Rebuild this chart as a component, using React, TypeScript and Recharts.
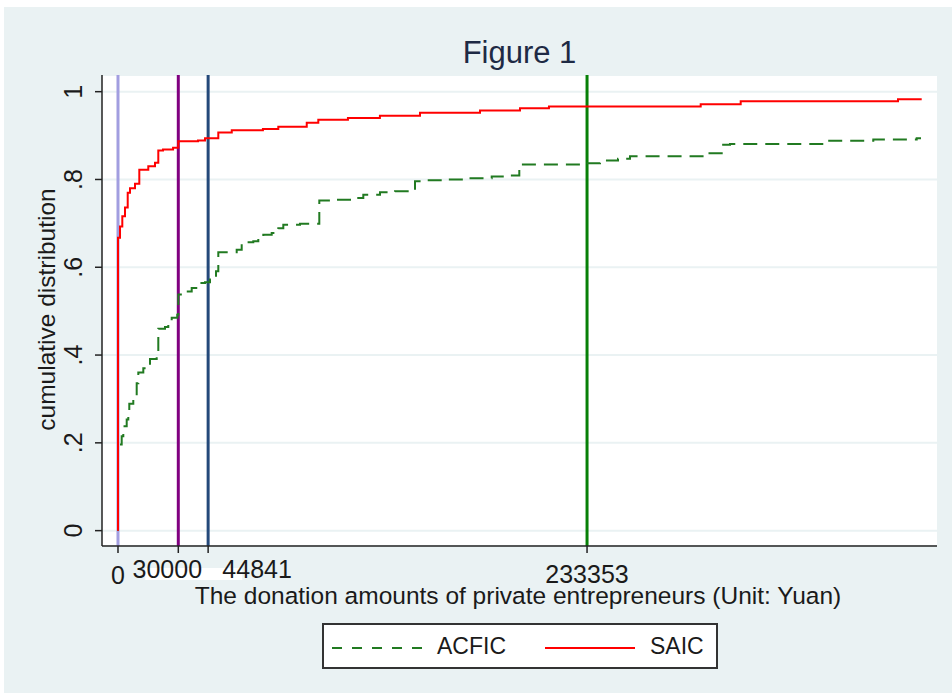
import React from 'react';
import { LineChart, Line, XAxis, YAxis, CartesianGrid, ReferenceLine, Legend } from 'recharts';

// step points of the two empirical CDFs (donation in yuan -> cumulative share)
const saicX = [0, 0, 1000, 2140, 3480, 4830, 5970, 8460, 10600, 15070, 18400, 20050, 22400, 27400, 30000, 39800, 43300, 49900, 56600, 72100, 79750, 93900, 99650, 114400, 130300, 150250, 180100, 200000, 214400, 289900, 309800, 388060, 399850];
const saicY = [0, 0.667, 0.693, 0.716, 0.736, 0.77, 0.78, 0.79, 0.822, 0.83, 0.838, 0.866, 0.868, 0.872, 0.887, 0.889, 0.894, 0.907, 0.912, 0.915, 0.92, 0.929, 0.936, 0.94, 0.945, 0.952, 0.957, 0.962, 0.966, 0.9715, 0.978, 0.9825, 0.9825];

const acficX = [0, 0, 650, 1840, 2640, 4330, 5120, 5620, 7610, 8460, 9300, 10100, 12590, 15070, 15920, 19250, 20050, 23380, 25020, 26720, 29500, 30000, 34180, 36670, 39950, 43280, 45770, 48760, 49900, 59050, 61540, 67310, 69800, 72290, 76470, 79750, 82240, 90550, 100150, 107960, 118760, 122040, 130350, 137810, 147760, 153580, 163530, 171790, 185920, 192540, 199650, 229850, 239800, 248760, 254730, 292890, 300350, 304480, 351740, 375770, 397360, 399500];
const acficY = [0, 0.19, 0.196, 0.215, 0.238, 0.253, 0.264, 0.289, 0.298, 0.306, 0.336, 0.36, 0.37, 0.374, 0.391, 0.397, 0.46, 0.464, 0.477, 0.485, 0.492, 0.538, 0.545, 0.553, 0.564, 0.566, 0.572, 0.591, 0.634, 0.64, 0.657, 0.659, 0.667, 0.674, 0.678, 0.689, 0.697, 0.699, 0.752, 0.754, 0.758, 0.765, 0.771, 0.773, 0.796, 0.798, 0.8, 0.803, 0.807, 0.809, 0.834, 0.837, 0.843, 0.847, 0.853, 0.86, 0.879, 0.881, 0.888, 0.891, 0.894, 0.894];

// vertical marker lines, also the x ticks
const markerValues = [0, 30000, 44841, 233353];
const markerColors = ['#a29ee0', '#800080', '#24497a', '#078007'];

const yTicks = [0, 0.2, 0.4, 0.6, 0.8, 1];
const yTickLabels = ['0', '.2', '.4', '.6', '.8', '1'];

const saicData = saicX.map((x, i) => ({ x, cdf: saicY[i] }));
const acficData = acficX.map((x, i) => ({ x, cdf: acficY[i] }));

const FONT = '"Liberation Sans", Arial, sans-serif';
const TEXT = '#1a1a1a';
const BG = '#EAF2F3';
const RED = '#ff0000';
const DGREEN = '#217a21';

// the crowded labels were nudged in the original
const xLabelShift: Record<number, [number, number]> = {
  30000: [-11, -6],
  44841: [49, -6],
  233353: [0, -1],
};

const XTick = (props: any) => {
  const { x, y, payload } = props;
  const [dx, dy] = xLabelShift[payload.value] || [0, 0];
  return (
    <g>
      {payload.value === 30000 && <rect x={x - 33} y={y + 13} width={97} height={12} fill="#fff" />}
      <text x={x + dx} y={y + 29 + dy} textAnchor="middle" fontSize={25} fontFamily={FONT} fill={TEXT}>
        {payload.value}
      </text>
    </g>
  );
};

const YTick = (props: any) => {
  const { x, y, payload } = props;
  const idx = yTicks.indexOf(payload.value);
  const bx = x - 11;
  return (
    <text x={bx} y={y} transform={`rotate(-90, ${bx}, ${y})`} textAnchor="middle" fontSize={25} fontFamily={FONT} fill={TEXT}>
      {idx >= 0 ? yTickLabels[idx] : payload.value}
    </text>
  );
};

const LegendBox = () => (
  <svg width={396} height={46} style={{ display: 'block' }}>
    <rect x={1} y={1} width={394} height={44} fill="#fff" stroke="#333" strokeWidth={2} />
    <line x1={10} y1={25} x2={100} y2={25} stroke={DGREEN} strokeWidth={2} strokeDasharray="10 10" />
    <text x={115} y={31} fontSize={23} fontFamily={FONT} fill={TEXT}>ACFIC</text>
    <line x1={223} y1={25} x2={313} y2={25} stroke={RED} strokeWidth={2} />
    <text x={328} y={31} fontSize={23} fontFamily={FONT} fill={TEXT}>SAIC</text>
  </svg>
);

export default function App() {
  return (
    <div style={{ position: 'absolute', left: 0, top: 0, width: 952, height: 693, background: '#fff' }}>
      <div style={{ position: 'absolute', left: 4, top: 7, right: 0, bottom: 0, background: BG }} />
      <div
        style={{
          position: 'absolute', left: 102, top: 37, width: 835, textAlign: 'center',
          fontFamily: FONT, fontSize: 31, lineHeight: '31px', color: '#1e2a44',
        }}
      >
        Figure 1
      </div>
      <div style={{ position: 'absolute', left: 0, top: 0 }}>
        <LineChart width={952} height={693} margin={{ top: 75, right: 15, bottom: 87, left: 0 }}>
          <CartesianGrid vertical={false} stroke={BG} strokeWidth={2} fill="#fff" />
          <XAxis
            type="number"
            dataKey="x"
            domain={[-7960, 407460]}
            ticks={markerValues}
            interval={0}
            allowDataOverflow
            height={60}
            tickSize={7}
            axisLine={{ stroke: '#222', strokeWidth: 1.5 }}
            tickLine={{ stroke: '#222', strokeWidth: 1.5 }}
            tick={<XTick />}
            label={{
              content: (p: any) => {
                const vb = p.viewBox || { x: 102, y: 546, width: 835 };
                return (
                  <text x={vb.x + vb.width / 2 - 1.5} y={vb.y + 58} textAnchor="middle" fontSize={24.5} fontFamily={FONT} fill={TEXT}>
                    The donation amounts of private entrepreneurs (Unit: Yuan)
                  </text>
                );
              },
            }}
          />
          <YAxis
            type="number"
            domain={[-0.035, 1.038]}
            ticks={yTicks}
            interval={0}
            allowDataOverflow
            width={102}
            tickSize={7}
            axisLine={{ stroke: '#222', strokeWidth: 1.5 }}
            tickLine={{ stroke: '#222', strokeWidth: 1.5 }}
            tick={<YTick />}
            label={{
              content: (p: any) => {
                const vb = p.viewBox || { x: 0, y: 75, height: 471 };
                const lx = vb.x + 55;
                const ly = vb.y + vb.height / 2 - 1;
                return (
                  <text x={lx} y={ly} transform={`rotate(-90, ${lx}, ${ly})`} textAnchor="middle" fontSize={24.5} fontFamily={FONT} fill={TEXT}>
                    cumulative distribution
                  </text>
                );
              },
            }}
          />
          {markerValues.map((v, i) => (
            <ReferenceLine key={v} x={v} stroke={markerColors[i]} strokeWidth={3} />
          ))}
          <Line
            data={acficData}
            dataKey="cdf"
            name="ACFIC"
            type="stepAfter"
            stroke={DGREEN}
            strokeWidth={2}
            strokeDasharray="14 8"
            dot={false}
            activeDot={false}
            isAnimationActive={false}
          />
          <Line
            data={saicData}
            dataKey="cdf"
            name="SAIC"
            type="stepAfter"
            stroke={RED}
            strokeWidth={2}
            dot={false}
            activeDot={false}
            isAnimationActive={false}
          />
          <Legend
            verticalAlign="middle"
            layout="horizontal"
            wrapperStyle={{ left: 322, top: 623, width: 396, height: 46 }}
            content={<LegendBox />}
          />
        </LineChart>
      </div>
    </div>
  );
}
